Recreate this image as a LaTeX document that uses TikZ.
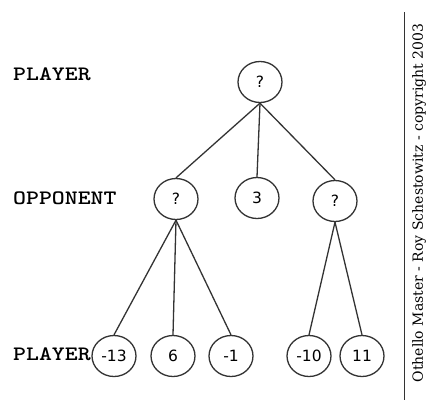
\documentclass[tikz,border=0pt]{standalone}
\usepackage{fontspec}
\setmainfont{DejaVu Sans}
\newfontfamily\notefont{DejaVu Serif}
\usetikzlibrary{shapes.geometric}
\begin{document}
\begin{tikzpicture}[x=1pt,y=-1pt,
  state/.style={draw=black!80,line width=1.3pt,ellipse,minimum width=44pt,minimum height=41pt,inner sep=0pt,font=\fontsize{15.5}{15.5}\selectfont},
  edge/.style={draw=black!80,line width=1.3pt},
  level/.style={anchor=west,inner sep=0pt,xscale=1.2,text=black,font=\ttfamily\bfseries\fontsize{20.5}{20.5}\selectfont}]
\useasboundingbox (0,0) rectangle (428,410);
% game tree
\node[state] (r)  at (260,82)  {?};
\node[state] (a)  at (176,199) {?};
\node[state] (b)  at (257,198) {3};
\node[state] (c)  at (335,201) {?};
\node[state] (l1) at (114,356) {-13};
\node[state] (l2) at (173,356) {6};
\node[state] (l3) at (231,356) {-1};
\node[state] (l4) at (309,356) {-10};
\node[state] (l5) at (362,356) {11};
\draw[edge] (r.south) -- (a.north);
\draw[edge] (r.south) -- (b.north);
\draw[edge] (r.south) -- (c.north);
\draw[edge] (a.south) -- (l1.north);
\draw[edge] (a.south) -- (l2.north);
\draw[edge] (a.south) -- (l3.north);
\draw[edge] (c.south) -- (l4.north);
\draw[edge] (c.south) -- (l5.north);
% level labels
\node[level] (p1) at (13,74)  {PLAYER};
\node[level] (op) at (13,198.5) {OPPONENT};
\node[level] (p2) at (13,354.5) {PLAYER};
% credit line
\coordinate (t) at (404,12);
\coordinate (s) at (404,400);
\draw[black!80,line width=1pt] (t) -- (s);
\node[rotate=90,anchor=center,font=\notefont\fontsize{14}{14}\selectfont] (cr) at (419,203) {Othello Master - Roy Schestowitz - copyright 2003};
\end{tikzpicture}
\end{document}
